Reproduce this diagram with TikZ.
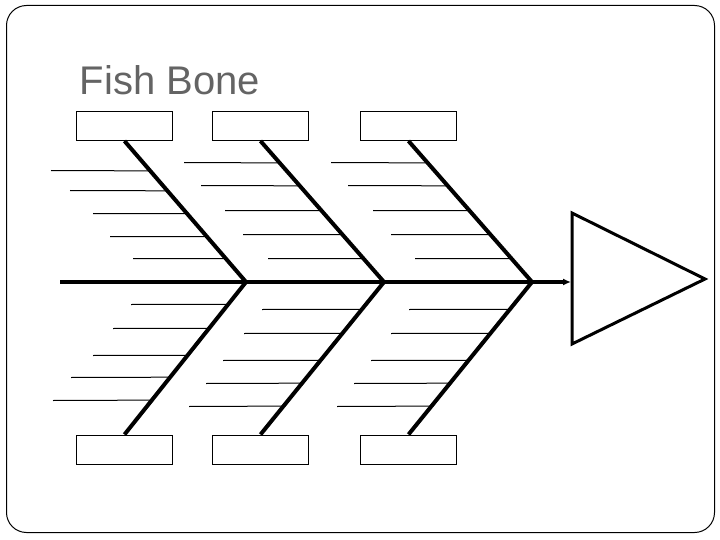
\documentclass[tikz,border=0pt]{standalone}
\usepackage{fontspec}
\setmainfont{Liberation Sans}
\usetikzlibrary{calc,arrows.meta}
\definecolor{titlegray}{RGB}{100,100,100}
\begin{document}
\begin{tikzpicture}[x=1pt,y=-1pt,
  box/.style={draw,line width=1pt,minimum width=96pt,minimum height=29pt,inner sep=0pt},
  bone/.style={line width=4pt},
  spine/.style={line width=3.5pt},
  rib/.style={line width=1pt},
  headtri/.style={line width=3pt}]
\useasboundingbox (0,0) rectangle (720,540);
\draw[line width=1pt, rounded corners=20pt] (6.5,5.5) rectangle (714.5,532.5);
\node[anchor=base west, inner sep=0pt, text=titlegray, font=\fontsize{40}{48}\selectfont] (title) at (79.5,94.3) {Fish Bone};
% boxes
\node[box] (t1) at (124.5,126) {};
\node[box] (t2) at (260.5,126) {};
\node[box] (t3) at (408.5,126) {};
\node[box] (b1) at (124.5,449.5) {};
\node[box] (b2) at (260.5,449.5) {};
\node[box] (b3) at (408.5,449.5) {};
% joints
\coordinate (tail) at (60,282);
\coordinate (j1) at (246,282);
\coordinate (j2) at (384,282);
\coordinate (j3) at (532,282);
\coordinate (headL) at (571,282);
% head triangle
\coordinate (h1) at (572,213);
\coordinate (h2) at (705,279);
\coordinate (h3) at (572,344);
\draw[headtri] (h1) -- (h2) -- (h3) -- cycle;
% spine
\draw[spine,-{Latex[length=8pt,width=7pt]}] (tail) -- (j1) -- (j2) -- (j3) -- (headL);
% bones
\draw[bone] (t1.south) -- (j1) -- (b1.north);
\draw[bone] (t2.south) -- (j2) -- (b2.north);
\draw[bone] (t3.south) -- (j3) -- (b3.north);
% ribs top
\foreach \xs/\yy in {51/170.5,70/190.5,93/213.5,110/236.5,133/258.5}{
  \pgfmathsetmacro\tt{(\yy-140.5)/141.5}
  \draw[rib] (\xs,\yy) -- ($(t1.south)!\tt!(j1)$);}
\foreach \xs/\yy in {184/162.5,201/185.5,225/210.5,243/234.5,268/258.5}{
  \pgfmathsetmacro\tt{(\yy-140.5)/141.5}
  \draw[rib] (\xs,\yy) -- ($(t2.south)!\tt!(j2)$);}
\foreach \xs/\yy in {331/162.5,348/185.5,373/210.5,391/234.5,415/258.5}{
  \pgfmathsetmacro\tt{(\yy-140.5)/141.5}
  \draw[rib] (\xs,\yy) -- ($(t3.south)!\tt!(j3)$);}
% ribs bottom
\foreach \xs/\yy in {131/304.5,113/328.5,93/355.5,71/377.5,53/400.5}{
  \pgfmathsetmacro\tt{(\yy-282)/153}
  \draw[rib] (\xs,\yy) -- ($(j1)!\tt!(b1.north)$);}
\foreach \xs/\yy in {262/309.5,244/333.5,223/360.5,206/383.5,189/406.5}{
  \pgfmathsetmacro\tt{(\yy-282)/153}
  \draw[rib] (\xs,\yy) -- ($(j2)!\tt!(b2.north)$);}
\foreach \xs/\yy in {409/309.5,391/333.5,371/360.5,354/383.5,337/406.5}{
  \pgfmathsetmacro\tt{(\yy-282)/153}
  \draw[rib] (\xs,\yy) -- ($(j3)!\tt!(b3.north)$);}
\end{tikzpicture}
\end{document}
